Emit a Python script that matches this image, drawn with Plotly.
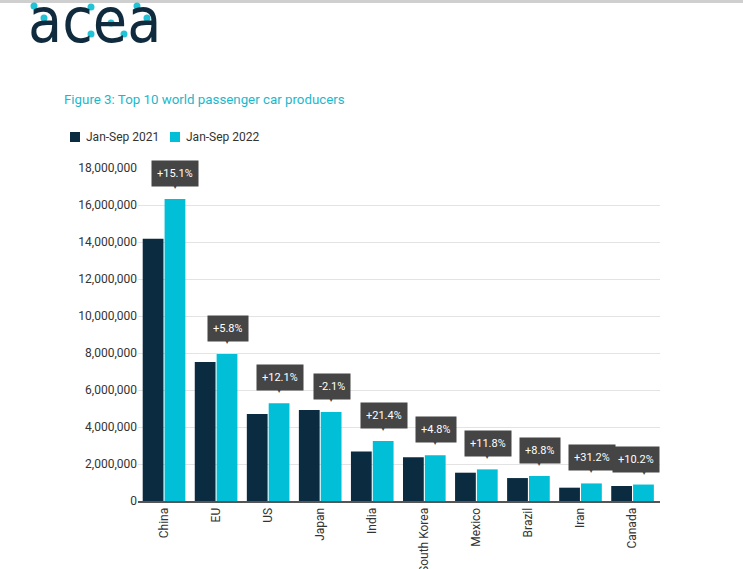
import plotly.graph_objects as go

categories = ["China", "EU", "US", "Japan", "India", "South Korea", "Mexico", "Brazil", "Iran", "Canada"]
values_2021 = [14180000, 7510000, 4700000, 4920000, 2670000, 2360000, 1530000, 1240000, 720000, 810000]
values_2022 = [16320000, 7950000, 5280000, 4810000, 3240000, 2470000, 1710000, 1350000, 950000, 890000]
changes = ["+15.1%", "+5.8%", "+12.1%", "-2.1%", "+21.4%", "+4.8%", "+11.8%", "+8.8%", "+31.2%", "+10.2%"]
series_names = ["Jan-Sep 2021", "Jan-Sep 2022"]
y_ticks = [0, 2000000, 4000000, 6000000, 8000000, 10000000, 12000000, 14000000, 16000000, 18000000]

DARK = "#0b2b40"
CYAN = "#00bfd6"
W, H = 743, 569
L, R, T, B = 138, 83, 168, 68
PW, PH = W - L - R, H - T - B


def px_x(px):
    return (px - L) / PW


def px_y(py):
    return (H - B - py) / PH


fig = go.Figure()
fig.add_trace(go.Bar(x=categories, y=values_2021, name=series_names[0], marker_color=DARK, marker_line_width=0))
fig.add_trace(go.Bar(x=categories, y=values_2022, name=series_names[1], marker_color=CYAN, marker_line_width=0))

annotations = []
cyan_offset = 0.22
for i, (v, txt) in enumerate(zip(values_2022, changes)):
    xs = -8 if i == len(categories) - 1 else 0
    annotations.append(dict(x=i + cyan_offset, y=v, xref="x", yref="y", text=txt, showarrow=False,
                            font=dict(family="Roboto", size=11, color="white"), bgcolor="#454545",
                            borderpad=5, height=15, yanchor="bottom", yshift=12, xshift=xs))
    annotations.append(dict(x=i + cyan_offset, y=v, xref="x", yref="y", text="▼", showarrow=False,
                            font=dict(family="DejaVu Sans", size=8, color="#454545"),
                            yanchor="bottom", yshift=7))

# Title
annotations.append(dict(x=px_x(62), y=px_y(100), xref="paper", yref="paper",
                        text="Figure 3: Top 10 world passenger car producers",
                        showarrow=False, xanchor="left", yanchor="middle",
                        font=dict(family="Roboto", size=13.3, color="#1ab8cc")))

# Manual legend
shapes = []
legend_items = [(70, DARK, series_names[0]), (170, CYAN, series_names[1])]
for (lx, col, name) in legend_items:
    shapes.append(dict(type="rect", xref="paper", yref="paper", x0=px_x(lx), x1=px_x(lx + 10),
                       y0=px_y(142), y1=px_y(132), fillcolor=col, line_width=0))
    annotations.append(dict(x=px_x(lx + 14), y=px_y(137.5), xref="paper", yref="paper", text=name,
                            showarrow=False, xanchor="left", yanchor="middle",
                            font=dict(family="Roboto", size=12, color="#333333")))

# Logo
annotations.append(dict(x=px_x(26), y=px_y(59), xref="paper", yref="paper", text="acea", showarrow=False,
                        xanchor="left", yanchor="bottom",
                        font=dict(family="DejaVu Sans Condensed", size=62, color="#0f2b3d")))

shapes.append(dict(type="rect", xref="paper", yref="paper", x0=px_x(0), x1=px_x(W), y0=px_y(0), y1=px_y(3),
                   fillcolor="#cfcfcf", line_width=0, layer="above"))
dots = [(34, 6), (44, 18), (91, 7), (91, 34), (111, 23), (124, 34), (137, 6), (147, 18)]
for (dx, dy) in dots:
    shapes.append(dict(type="circle", xref="paper", yref="paper", x0=px_x(dx - 3.5), x1=px_x(dx + 3.5),
                       y0=px_y(dy + 3.5), y1=px_y(dy - 3.5), fillcolor="#21c3d6", line_width=0, layer="above"))

fig.update_layout(
    width=W, height=H,
    margin=dict(l=L, r=R, t=T, b=B, autoexpand=False),
    paper_bgcolor="white", plot_bgcolor="white",
    barmode="group", bargap=0.16, bargroupgap=0.05,
    font=dict(family="Roboto", size=12, color="#333333"),
    showlegend=False,
    annotations=annotations,
    shapes=shapes,
    xaxis=dict(type="category", tickangle=-90, showline=True, linecolor="#555555", linewidth=2,
               showgrid=False, ticks="", automargin=False, tickfont=dict(size=12, color="#333333")),
    yaxis=dict(range=[0, 18000000], tickvals=y_ticks, tickformat=",d", showgrid=True, gridcolor="#e3e3e3",
               gridwidth=1, zeroline=False, showline=False, ticks="", automargin=False,
               tickfont=dict(size=12, color="#333333")),
)

fig.write_html("out.html", config={"displayModeBar": False},
               post_script="document.body.style.margin='0';")
